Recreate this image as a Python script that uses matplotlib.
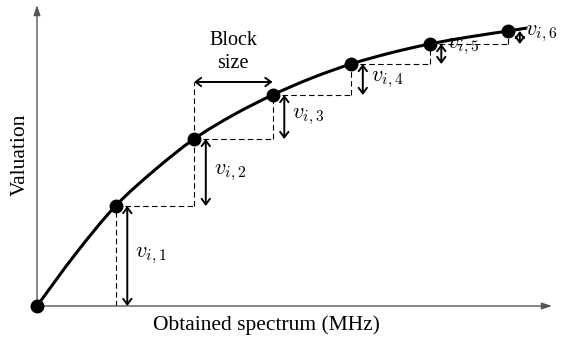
import matplotlib.pyplot as plt
from matplotlib.path import Path
from matplotlib.patches import PathPatch

plt.rcParams['font.family'] = 'Liberation Serif'
plt.rcParams['mathtext.fontset'] = 'cm'

# block points (x in blocks, valuation)
blocks = [0, 1, 2, 3, 4, 5, 6]
valuation = [0, 100, 167, 211, 242, 262, 275]
labels = ['$v_{i,1}$', '$v_{i,2}$', '$v_{i,3}$', '$v_{i,4}$', '$v_{i,5}$', '$v_{i,6}$']

# curve traced through the points (with extra in-between readings)
curve_x = [0, 0.5, 1, 1.5, 2, 2.5, 3, 3.5, 4, 4.5, 5, 5.5, 6, 6.24]
curve_y = [0, 53, 100, 136, 167, 191, 211, 228, 242, 253, 262, 269, 275, 278]

fig = plt.figure(figsize=(5.76, 3.38), dpi=100)
ax = fig.add_axes([37/576, 32/338, 515/576, 301/338])
ax.set_xlim(0, 6.56)
ax.set_ylim(0, 301)
ax.axis('off')

axis_col = '#555555'
for tip in [(6.56, 0), (0, 301)]:
    ax.annotate('', xy=tip, xytext=(0, 0), annotation_clip=False,
                arrowprops=dict(arrowstyle='-|>,head_length=0.6,head_width=0.2',
                                color=axis_col, lw=1, shrinkA=0, shrinkB=0))

# dashed steps
dash = (0, (5, 3))
for k in range(len(blocks) - 1):
    x0, x1 = blocks[k], blocks[k + 1]
    y0, y1 = valuation[k], valuation[k + 1]
    ax.plot([x0, x1], [y0, y0], ls=dash, color='black', lw=0.8)
    ax.plot([x1, x1], [y0, y1], ls=dash, color='black', lw=0.8)

# block size marker
top = 224
ax.plot([blocks[2], blocks[2]], [valuation[2], top], ls=dash, color='black', lw=0.8)
ax.annotate('', xy=(blocks[3], top), xytext=(blocks[2], top),
            arrowprops=dict(arrowstyle='<->,head_length=0.4,head_width=0.3',
                            color='black', lw=1.4, shrinkA=0, shrinkB=0))
ax.text((blocks[2] + blocks[3]) / 2, top + 9, 'Block\nsize', ha='center', va='bottom',
        fontsize=14.5, linespacing=1.3)

# smooth curve through traced points (Catmull-Rom as cubic Bezier)
verts = [(curve_x[0], curve_y[0])]
codes = [Path.MOVETO]
n = len(curve_x)
for i in range(n - 1):
    p0 = (curve_x[max(i - 1, 0)], curve_y[max(i - 1, 0)])
    p1 = (curve_x[i], curve_y[i])
    p2 = (curve_x[i + 1], curve_y[i + 1])
    p3 = (curve_x[min(i + 2, n - 1)], curve_y[min(i + 2, n - 1)])
    c1 = (p1[0] + (p2[0] - p0[0]) / 6, p1[1] + (p2[1] - p0[1]) / 6)
    c2 = (p2[0] - (p3[0] - p1[0]) / 6, p2[1] - (p3[1] - p1[1]) / 6)
    verts += [c1, c2, p2]
    codes += [Path.CURVE4] * 3
ax.add_patch(PathPatch(Path(verts, codes), fill=False, lw=2.2, ec='black', clip_on=False))
ax.plot(blocks, valuation, 'o', color='black', ms=9, clip_on=False, zorder=5)

# increments
for k in range(1, len(blocks)):
    xa = blocks[k] + 0.15
    lo, hi = valuation[k - 1], valuation[k]
    ax.annotate('', xy=(xa, hi), xytext=(xa, lo),
                arrowprops=dict(arrowstyle='<->,head_length=0.4,head_width=0.3',
                                color='black', lw=1.4, shrinkA=0, shrinkB=0))
    if k <= 4:
        ax.text(xa + 0.1, (lo + hi) / 2, labels[k - 1], ha='left', va='center', fontsize=16)
    else:
        ax.text(xa + 0.07, hi - 3, labels[k - 1], ha='left', va='center', fontsize=16)

fig.text(266/576, 1 - 325/338, 'Obtained spectrum (MHz)', ha='center', va='center', fontsize=15.5)
fig.text(20/576, 1 - 155/338, 'Valuation', ha='center', va='center', rotation=90, fontsize=15.5)

fig.savefig('out.png', dpi=100)
